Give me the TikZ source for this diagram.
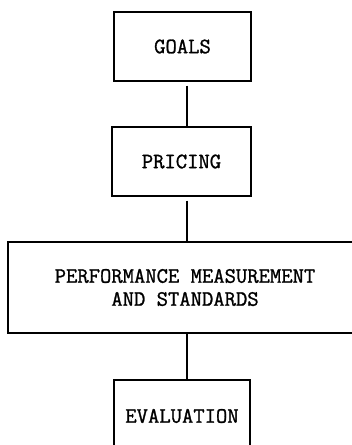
\documentclass[tikz,border=0pt]{standalone}
\usepackage{fontspec}
\newfontfamily\typerfont{Latin Modern Mono}[FakeBold=1.2]
\usetikzlibrary{positioning}

\tikzset{
    stagebox/.style={draw, line width=1.1pt, inner sep=0pt, align=center,
        font=\typerfont\fontsize{22}{23}\selectfont},
    link/.style={line width=1.1pt}
}

\begin{document}
\begin{tikzpicture}[x=1pt,y=-1pt]
    \useasboundingbox (0,0) rectangle (352,445);

    % the four stages, top to bottom
    \node[stagebox, minimum width=137pt, minimum height=69pt] (goals) at (182.5,46.5) {GOALS};
    \node[stagebox, minimum width=139pt, minimum height=69pt] (pricing) at (181.5,161.5) {PRICING};
    \node[stagebox, minimum width=354pt, minimum height=91pt] (perf) at (185,287.5)
        {PERFORMANCE MEASUREMENT\\AND STANDARDS};
    \node[stagebox, minimum width=136pt, minimum height=72pt] (eval) at (182,416) {EVALUATION};

    % links between stages
    \draw[link] ([xshift=4.5pt,yshift=-4pt]goals.south) -- ([xshift=5.5pt]pricing.north);
    \draw[link] ([xshift=5.5pt,yshift=-4pt]pricing.south) -- ([xshift=2pt]perf.north);
    \draw[link] ([xshift=2pt]perf.south) -- ([xshift=5pt]eval.north);

\end{tikzpicture}
\end{document}
